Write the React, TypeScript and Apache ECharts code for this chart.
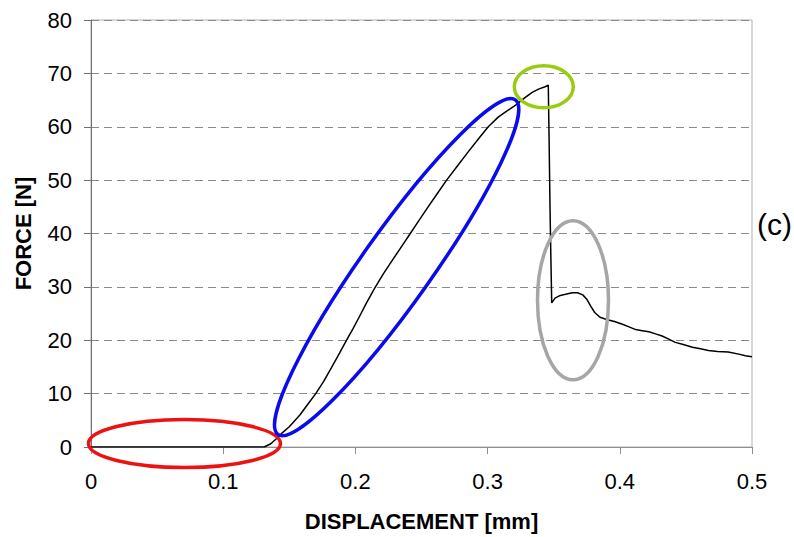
import React, { useEffect, useRef } from "react";
import * as echarts from "echarts";

// Displacement [mm] and force [N]
const displacement = [
  0, 0.05, 0.1, 0.131, 0.136, 0.14, 0.144, 0.15, 0.158, 0.164, 0.17, 0.176, 0.182, 0.188, 0.193,
  0.198, 0.203, 0.208, 0.2145, 0.221, 0.228, 0.235, 0.2415, 0.248, 0.255, 0.262, 0.269, 0.277,
  0.285, 0.293, 0.3005, 0.308, 0.315, 0.322, 0.328, 0.334, 0.339, 0.3435, 0.3459, 0.3465, 0.3472,
  0.3479, 0.3485, 0.351, 0.355, 0.359, 0.364, 0.368, 0.372, 0.375, 0.378, 0.381, 0.385, 0.39,
  0.396, 0.402, 0.407, 0.412, 0.417, 0.422, 0.427, 0.432, 0.437, 0.442, 0.448, 0.455, 0.461,
  0.467, 0.474, 0.482, 0.49, 0.495, 0.5,
];
const force = [
  0, 0, 0, 0, 0.6, 1.5, 2.5, 3.8, 6.0, 8.0, 10.0, 12.3, 14.9, 17.6, 19.9,
  22.1, 24.4, 26.8, 29.7, 32.4, 35.0, 37.6, 40.0, 42.4, 45.0, 47.5, 50.0, 52.6,
  55.2, 57.7, 60.0, 61.8, 63.0, 64.2, 65.4, 66.5, 67.1, 67.5, 67.8, 58, 45,
  35, 27.0, 27.9, 28.4, 28.6, 28.9, 28.9, 28.5, 27.7, 26.4, 25.2, 24.3, 23.9,
  23.5, 23.0, 22.5, 22.0, 21.8, 21.6, 21.2, 20.8, 20.2, 19.6, 19.2, 18.7, 18.4,
  18.1, 17.9, 17.8, 17.4, 17.1, 16.9,
];

// Highlight ellipses (centres in data units)
const annotations = [
  { cx: 0.0707, cy: 0.65, rx: 96, ry: 24, angle: 0, color: "#ee1111" },
  { cx: 0.2312, cy: 33.7, rx: 205, ry: 35, angle: 54.65, color: "#0a0aee" },
  { cx: 0.3425, cy: 67.5, rx: 29.5, ry: 21, angle: 0, color: "#99cc11" },
  { cx: 0.3646, cy: 27.5, rx: 35.5, ry: 79.5, angle: 0, color: "#a6a6a6" },
];

const FONT = "'Liberation Sans', Arial, sans-serif";

export default function App() {
  const ref = useRef<HTMLDivElement>(null);
  useEffect(() => {
    if (!ref.current) return;
    const chart = echarts.init(ref.current, null, { renderer: "svg" });
    const data = displacement.map((x, i) => [x, force[i]]);
    chart.setOption({
      animation: false,
      backgroundColor: "#fff",
      grid: {
        left: 91,
        right: 42,
        top: 20,
        bottom: 84,
        show: true,
        borderColor: "#b0b0b0",
        borderWidth: 1,
        containLabel: false,
      },
      xAxis: {
        type: "value",
        min: 0,
        max: 0.5,
        interval: 0.1,
        name: "DISPLACEMENT [mm]",
        nameLocation: "middle",
        nameGap: 63,
        nameTextStyle: { fontFamily: FONT, fontSize: 22, fontWeight: "bold", color: "#000" },
        axisLine: { show: true, lineStyle: { color: "#909090", width: 1 } },
        axisTick: { show: true, length: 7, lineStyle: { color: "#909090" } },
        axisLabel: { fontFamily: FONT, fontSize: 22, color: "#000", margin: 23 },
        splitLine: { show: false },
      },
      yAxis: {
        type: "value",
        min: 0,
        max: 80,
        interval: 10,
        name: "FORCE [N]",
        nameLocation: "middle",
        nameGap: 57,
        nameRotate: 90,
        nameTextStyle: { fontFamily: FONT, fontSize: 22, fontWeight: "bold", color: "#000" },
        axisLine: { show: true, lineStyle: { color: "#707070", width: 1 } },
        axisTick: { show: true, length: 7, lineStyle: { color: "#707070" } },
        axisLabel: { fontFamily: FONT, fontSize: 22, color: "#000", margin: 19 },
        splitLine: { show: true, lineStyle: { color: "#8a8a8a", type: [8, 5], width: 1 } },
      },
      series: [
        {
          type: "line",
          data,
          showSymbol: false,
          symbol: "none",
          lineStyle: { color: "#000", width: 1.5 },
          z: 3,
        },
      ],
    });

    const graphics: any[] = annotations.map((a) => {
      const p = chart.convertToPixel({ gridIndex: 0 }, [a.cx, a.cy]) as number[];
      return {
        type: "ellipse",
        x: p[0],
        y: p[1],
        rotation: (a.angle * Math.PI) / 180,
        shape: { cx: 0, cy: 0, rx: a.rx, ry: a.ry },
        style: { fill: "none", stroke: a.color, lineWidth: 3.5 },
        z: 10,
      };
    });
    graphics.push({
      type: "text",
      left: 757,
      top: 209,
      style: { text: "(c)", fontFamily: FONT, fontSize: 30, fill: "#000" },
      z: 10,
    });
    chart.setOption({ graphic: graphics });

    return () => chart.dispose();
  }, []);
  return (
    <div
      ref={ref}
      style={{ position: "fixed", left: 0, top: 0, width: 794, height: 537 }}
    />
  );
}
